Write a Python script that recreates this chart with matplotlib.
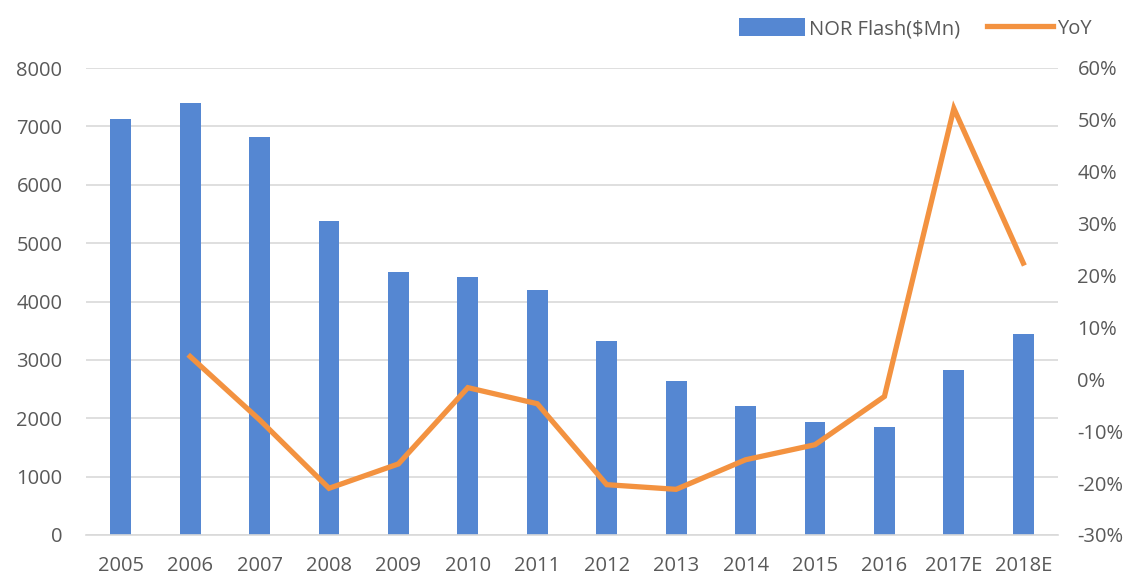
import matplotlib.pyplot as plt
from matplotlib.ticker import FuncFormatter

years = ['2005', '2006', '2007', '2008', '2009', '2010', '2011', '2012',
         '2013', '2014', '2015', '2016', '2017E', '2018E']
nor_flash = [7120, 7400, 6820, 5380, 4500, 4420, 4200, 3330,
             2630, 2210, 1930, 1850, 2830, 3450]
yoy_years = years[1:]
yoy = [4.4, -7.8, -21.0, -16.3, -1.6, -4.7, -20.3, -21.2,
       -15.5, -12.6, -3.3, 52.2, 22.4]

plt.rcParams['font.family'] = ['Open Sans', 'DejaVu Sans']
grey = '#595959'

fig = plt.figure(figsize=(11.3, 5.74), dpi=100)
ax = fig.add_axes([86 / 1130, 1 - 535 / 574, 972 / 1130, 467 / 574])
ax2 = ax.twinx()

x = list(range(len(years)))
bars = ax.bar(x, nor_flash, width=0.3, color='#5587D2', zorder=2,
              label='NOR Flash($Mn)')
line, = ax2.plot(x[1:], yoy, color='#F39240', linewidth=3.8,
                 solid_joinstyle='miter', zorder=3, label='YoY')

ax.set_xlim(-0.5, len(years) - 0.5)
ax.set_ylim(0, 8000)
ax.set_yticks(range(0, 8001, 1000))
ax2.set_ylim(-30, 60)
ax2.set_yticks(range(-30, 61, 10))
ax2.yaxis.set_major_formatter(FuncFormatter(lambda v, p: f'{int(v)}%'))

ax.set_xticks(x)
ax.set_xticklabels(years)
ax.yaxis.grid(True, color='#D9D9D9', linewidth=1.2, zorder=0)
ax.set_axisbelow(True)

for a in (ax, ax2):
    for s in a.spines.values():
        s.set_visible(False)
    a.tick_params(length=0, labelsize=14.5, colors=grey)
ax.spines['bottom'].set_visible(True)
ax.spines['bottom'].set_color('#D9D9D9')
ax.spines['bottom'].set_linewidth(1.2)
ax.tick_params(axis='x', pad=15)
ax.tick_params(axis='y', pad=17)
ax2.tick_params(axis='y', pad=14)

fig.legend([bars, line], ['NOR Flash($Mn)', 'YoY'], loc='upper right',
           bbox_to_anchor=(1110 / 1130, 1.0), ncol=2, frameon=False,
           fontsize=14.5, labelcolor=grey, handlelength=3.3, handleheight=1.0,
           handletextpad=0.2, columnspacing=1.3)

plt.savefig('out.png', dpi=100)
